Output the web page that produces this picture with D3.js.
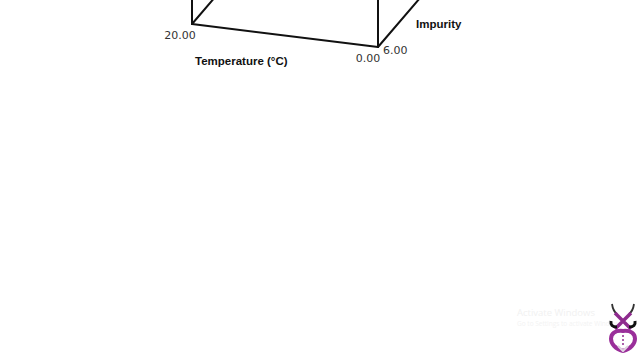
<!DOCTYPE html>
<html lang="en">
<head>
    <meta charset="UTF-8">
    <title>Temperature / Impurity cube</title>
    <script src="https://cdn.jsdelivr.net/npm/d3@7"></script>
    <style>
        body{ margin: 0; background: #fff; }
        svg{ display: block; }
        .edge{ stroke: #111; stroke-width: 2; fill: none; stroke-linecap: round; }
        .tick{ font-family: "DejaVu Sans", sans-serif; font-size: 11px; fill: #333; }
        .lab{ font-family: "Liberation Sans", Arial, sans-serif; font-size: 11.5px; font-weight: bold; fill: #111; }
    </style>
</head>
<body>
<script>
    // axis ends
    let tempDomain = [20, 0];
    let impurityDomain = [6, 0];
    let heightDomain = [0, 1];
    let tempTicks = [20, 0];
    let impurityTicks = [6];
    let axisNames = ["Temperature (°C)", "Impurity"];

    const W = 640, H = 360;
    let svg = d3.select("body").append("svg")
        .attr("width", W)
        .attr("height", H)

    // oblique projection: each axis is a scale to a screen offset
    let origin = [192, 24];
    let tX = d3.scaleLinear().domain(tempDomain).range([0, 186]);
    let tY = d3.scaleLinear().domain(tempDomain).range([0, 23]);
    let iX = d3.scaleLinear().domain(impurityDomain).range([0, 84]);
    let iY = d3.scaleLinear().domain(impurityDomain).range([0, -98]);
    let hY = d3.scaleLinear().domain(heightDomain).range([0, -140]);

    function proj(t, i, h) {
        return [origin[0] + tX(t) + iX(i), origin[1] + tY(t) + iY(i) + hY(h)];
    }

    let T0 = tempDomain[0], T1 = tempDomain[1];
    let I0 = impurityDomain[0], I1 = impurityDomain[1];
    let H0 = heightDomain[0], H1 = heightDomain[1];
    let edges = [
        [[T0, I0, H0], [T1, I0, H0]],
        [[T0, I0, H0], [T0, I1, H0]],
        [[T1, I0, H0], [T1, I1, H0]],
        [[T0, I0, H0], [T0, I0, H1]],
        [[T1, I0, H0], [T1, I0, H1]]
    ];
    let line = d3.line();
    svg.selectAll(".edge").data(edges).join("path")
        .attr("class", "edge")
        .attr("d", d => line(d.map(p => proj(p[0], p[1], p[2]))))

    // temperature ticks
    svg.selectAll(".ttick").data(tempTicks).join("text")
        .attr("class", "tick")
        .attr("x", d => proj(d, I0, H0)[0] + (d === T0 ? -12 : -10))
        .attr("y", d => proj(d, I0, H0)[1] + 15)
        .attr("text-anchor", "middle")
        .text(d => d.toFixed(2))

    svg.selectAll(".itick").data(impurityTicks).join("text")
        .attr("class", "tick")
        .attr("x", d => proj(T1, d, H0)[0] + 5)
        .attr("y", d => proj(T1, d, H0)[1] + 7)
        .text(d => d.toFixed(2))

    svg.append("text").attr("class", "lab")
        .attr("x", 195).attr("y", 65)
        .text(axisNames[0])
    svg.append("text").attr("class", "lab")
        .attr("x", 416).attr("y", 28)
        .text(axisNames[1])

    // faint watermark
    svg.append("text")
        .attr("x", 517).attr("y", 316)
        .attr("font-family", "Open Sans, sans-serif")
        .attr("font-size", 9.5)
        .attr("fill", "#f1f1f1")
        .text("Activate Windows")
    svg.append("text")
        .attr("x", 517).attr("y", 326)
        .attr("font-family", "Open Sans, sans-serif")
        .attr("font-size", 6.5)
        .attr("fill", "#f3f3f3")
        .text("Go to Settings to activate Windows.")

    // logo
    let logo = svg.append("g").attr("transform", "translate(623,327)")
    logo.append("path")
        .attr("d", "M-11,-23 Q-10,-16 -6,-13 M11,-23 Q10,-16 6,-13")
        .attr("stroke", "#333").attr("stroke-width", 1.8).attr("fill", "none")
    logo.append("path")
        .attr("d", "M-8,-14 L8,2 M8,-14 L-8,2")
        .attr("stroke", "#8e2b8e").attr("stroke-width", 3.5).attr("fill", "none")
    logo.append("path")
        .attr("d", "M-12,-6 Q-13,0 -6,0 M12,-6 Q13,0 6,0")
        .attr("stroke", "#111").attr("stroke-width", 3).attr("fill", "none")
    logo.append("path")
        .attr("d", "M0,4 C-16,2 -16,20 0,24 C16,20 16,2 0,4 Z")
        .attr("stroke", "#9a2f9a").attr("stroke-width", 4).attr("fill", "none")
    logo.append("path")
        .attr("d", "M-5,19 L0,24 L5,19")
        .attr("stroke", "#e0d3e0").attr("stroke-width", 2).attr("fill", "none")
    logo.selectAll(".dot").data([9, 13, 17]).join("circle")
        .attr("cx", 0).attr("cy", d => d).attr("r", 1)
        .attr("fill", "#8e2b8e")
</script>
</body>
</html>
